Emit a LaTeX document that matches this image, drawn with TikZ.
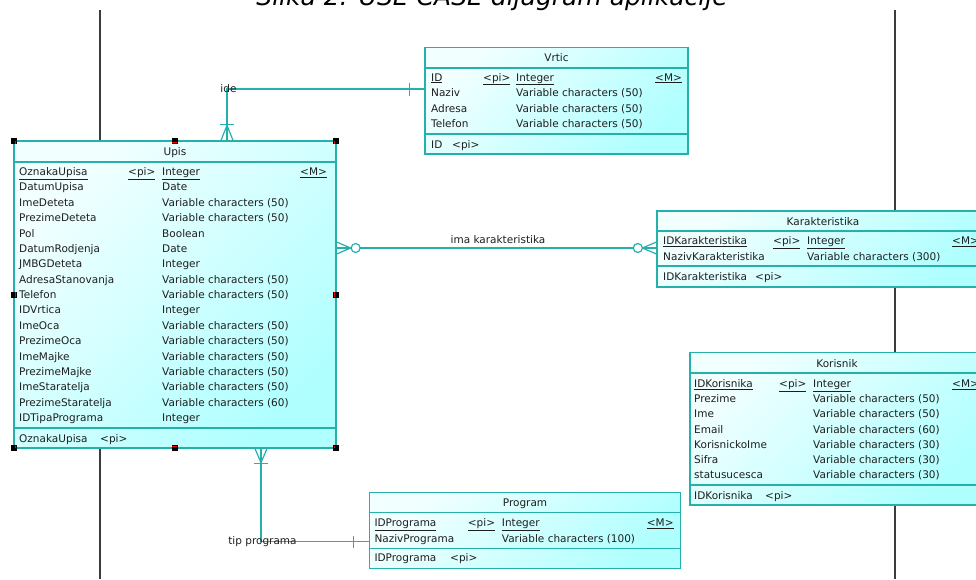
\documentclass[tikz,border=0pt]{standalone}
\usepackage{fontspec}
\usepackage{tikz}
\newfontfamily\erfont{DejaVu Sans}
\definecolor{erline}{RGB}{38,176,172}
\definecolor{erlight}{RGB}{242,255,255}
\definecolor{erdark}{RGB}{176,255,255}
\definecolor{lifeline}{RGB}{60,60,60}
\definecolor{ertext}{RGB}{30,30,30}

\begin{document}
\begin{tikzpicture}[x=1pt,y=-1pt]
        \tikzstyle{entity} = [rectangle, draw=erline, line width=1.3pt, top color=erlight, bottom color=erdark, shading angle=45, inner sep=0pt]
        \tikzstyle{sepline} = [draw=erline, line width=1.1pt]
        \tikzstyle{attr} = [anchor=base west, inner sep=0pt, text=ertext, font=\erfont\fontsize{10.5}{12}\selectfont]
        \tikzstyle{enttitle} = [anchor=base, inner sep=0pt, text=ertext, font=\erfont\fontsize{10.5}{12}\selectfont]
        \tikzstyle{rel} = [draw=erline, line width=1.2pt]
        \tikzstyle{rellabel} = [anchor=base, inner sep=0pt, text=ertext, font=\erfont\fontsize{10.5}{12}\selectfont]
        \tikzstyle{handle} = [fill=black]
        \useasboundingbox (0,0) rectangle (976,579);
        % caption of the page, cut by the top edge
        \node[anchor=base, inner sep=0pt, font=\erfont\itshape\fontsize{25}{28}\selectfont] (cap) at (492,5) {Slika 2: USE CASE dijagram aplikacije};
        % lifelines behind the tables
        \draw[lifeline, line width=1.4pt] (100,10) -- (100,579);
        \draw[lifeline, line width=1.4pt] (895,10) -- (895,579);

        % Vrtic
        \node[entity, minimum width=263pt, minimum height=106.5pt] (vrtic) at (556.5,100.75) {};
        \draw[sepline] (vrtic.west |- 0,68) -- (vrtic.east |- 0,68);
        \draw[sepline] (vrtic.west |- 0,134) -- (vrtic.east |- 0,134);
        \node[enttitle] (vrticT) at (556.5,61.5) {Vrtic};
        \node[attr] (v1n) at (431,81) {\underline{ID}};
        \node[attr] (v1p) at (483,81) {\underline{<pi>}};
        \node[attr] (v1t) at (516,81) {\underline{Integer}};
        \node[attr] (v1m) at (655,81) {\underline{<M>}};
        \node[attr] (v2n) at (431,96.5) {Naziv};
        \node[attr] (v2t) at (516,96.5) {Variable characters (50)};
        \node[attr] (v3n) at (431,112) {Adresa};
        \node[attr] (v3t) at (516,112) {Variable characters (50)};
        \node[attr] (v4n) at (431,127.5) {Telefon};
        \node[attr] (v4t) at (516,127.5) {Variable characters (50)};
        \node[attr] (vkn) at (431,148) {ID};
        \node[attr] (vkp) at (452,148) {<pi>};

        % Upis
        \node[entity, minimum width=322pt, minimum height=307pt] (upis) at (175,294.5) {};
        \draw[sepline] (upis.west |- 0,162) -- (upis.east |- 0,162);
        \draw[sepline] (upis.west |- 0,428) -- (upis.east |- 0,428);
        \node[enttitle] (upisT) at (175,155) {Upis};
        \node[attr] (u1n) at (19,175.5) {\underline{OznakaUpisa}};
        \node[attr] (u1p) at (128,175.5) {\underline{<pi>}};
        \node[attr] (u1t) at (162,175.5) {\underline{Integer}};
        \node[attr] (u1m) at (300,175.5) {\underline{<M>}};
        \node[attr] (u2n) at (19,190.9) {DatumUpisa};
        \node[attr] (u2t) at (162,190.9) {Date};
        \node[attr] (u3n) at (19,206.3) {ImeDeteta};
        \node[attr] (u3t) at (162,206.3) {Variable characters (50)};
        \node[attr] (u4n) at (19,221.6) {PrezimeDeteta};
        \node[attr] (u4t) at (162,221.6) {Variable characters (50)};
        \node[attr] (u5n) at (19,237) {Pol};
        \node[attr] (u5t) at (162,237) {Boolean};
        \node[attr] (u6n) at (19,252.4) {DatumRodjenja};
        \node[attr] (u6t) at (162,252.4) {Date};
        \node[attr] (u7n) at (19,267.8) {JMBGDeteta};
        \node[attr] (u7t) at (162,267.8) {Integer};
        \node[attr] (u8n) at (19,283.1) {AdresaStanovanja};
        \node[attr] (u8t) at (162,283.1) {Variable characters (50)};
        \node[attr] (u9n) at (19,298.5) {Telefon};
        \node[attr] (u9t) at (162,298.5) {Variable characters (50)};
        \node[attr] (u10n) at (19,313.9) {IDVrtica};
        \node[attr] (u10t) at (162,313.9) {Integer};
        \node[attr] (u11n) at (19,329.3) {ImeOca};
        \node[attr] (u11t) at (162,329.3) {Variable characters (50)};
        \node[attr] (u12n) at (19,344.6) {PrezimeOca};
        \node[attr] (u12t) at (162,344.6) {Variable characters (50)};
        \node[attr] (u13n) at (19,360) {ImeMajke};
        \node[attr] (u13t) at (162,360) {Variable characters (50)};
        \node[attr] (u14n) at (19,375.4) {PrezimeMajke};
        \node[attr] (u14t) at (162,375.4) {Variable characters (50)};
        \node[attr] (u15n) at (19,390.8) {ImeStaratelja};
        \node[attr] (u15t) at (162,390.8) {Variable characters (50)};
        \node[attr] (u16n) at (19,406.1) {PrezimeStaratelja};
        \node[attr] (u16t) at (162,406.1) {Variable characters (60)};
        \node[attr] (u17n) at (19,421.5) {IDTipaPrograma};
        \node[attr] (u17t) at (162,421.5) {Integer};
        \node[attr] (ukn) at (19,442) {OznakaUpisa};
        \node[attr] (ukp) at (100,442) {<pi>};

        % Karakteristika
        \node[entity, minimum width=332pt, minimum height=76pt] (karak) at (823,249) {};
        \draw[sepline] (karak.west |- 0,231) -- (karak.east |- 0,231);
        \draw[sepline] (karak.west |- 0,266) -- (karak.east |- 0,266);
        \node[enttitle] (karakT) at (823,225) {Karakteristika};
        \node[attr] (k1n) at (663,244.5) {\underline{IDKarakteristika}};
        \node[attr] (k1p) at (773,244.5) {\underline{<pi>}};
        \node[attr] (k1t) at (807,244.5) {\underline{Integer}};
        \node[attr] (k1m) at (952,244.5) {\underline{<M>}};
        \node[attr] (k2n) at (663,260) {NazivKarakteristika};
        \node[attr] (k2t) at (807,260) {Variable characters (300)};
        \node[attr] (kkn) at (663,280.5) {IDKarakteristika};
        \node[attr] (kkp) at (755,280.5) {<pi>};

        % Korisnik
        \node[entity, minimum width=294pt, minimum height=152.5pt] (kor) at (837,428.75) {};
        \draw[sepline] (kor.west |- 0,373) -- (kor.east |- 0,373);
        \draw[sepline] (kor.west |- 0,485) -- (kor.east |- 0,485);
        \node[enttitle] (korT) at (837,367) {Korisnik};
        \node[attr] (r1n) at (694,387.3) {\underline{IDKorisnika}};
        \node[attr] (r1p) at (779,387.3) {\underline{<pi>}};
        \node[attr] (r1t) at (813,387.3) {\underline{Integer}};
        \node[attr] (r1m) at (952,387.3) {\underline{<M>}};
        \node[attr] (r2n) at (694,402.5) {Prezime};
        \node[attr] (r2t) at (813,402.5) {Variable characters (50)};
        \node[attr] (r3n) at (694,417.7) {Ime};
        \node[attr] (r3t) at (813,417.7) {Variable characters (50)};
        \node[attr] (r4n) at (694,433) {Email};
        \node[attr] (r4t) at (813,433) {Variable characters (60)};
        \node[attr] (r5n) at (694,448.2) {KorisnickoIme};
        \node[attr] (r5t) at (813,448.2) {Variable characters (30)};
        \node[attr] (r6n) at (694,463.4) {Sifra};
        \node[attr] (r6t) at (813,463.4) {Variable characters (30)};
        \node[attr] (r7n) at (694,478.6) {statusucesca};
        \node[attr] (r7t) at (813,478.6) {Variable characters (30)};
        \node[attr] (rkn) at (694,499) {IDKorisnika};
        \node[attr] (rkp) at (765,499) {<pi>};

        % Program
        \node[entity, minimum width=311.4pt, minimum height=76pt] (prog) at (525,530.3) {};
        \draw[sepline] (prog.west |- 0,512.3) -- (prog.east |- 0,512.3);
        \draw[sepline] (prog.west |- 0,548.3) -- (prog.east |- 0,548.3);
        \node[enttitle] (progT) at (525,506) {Program};
        \node[attr] (p1n) at (374.3,526.7) {\underline{IDPrograma}};
        \node[attr] (p1p) at (467.7,526.7) {\underline{<pi>}};
        \node[attr] (p1t) at (501.7,526.7) {\underline{Integer}};
        \node[attr] (p1m) at (646.7,526.7) {\underline{<M>}};
        \node[attr] (p2n) at (374.3,542) {NazivPrograma};
        \node[attr] (p2t) at (501.7,542) {Variable characters (100)};
        \node[attr] (pkn) at (374.3,561.7) {IDPrograma};
        \node[attr] (pkp) at (450,561.7) {<pi>};

        % ide
        \coordinate (ideX) at (227,89);
        \coordinate (ideU) at (upis.north -| ideX);
        \coordinate (ideV) at (vrtic.west |- ideX);
        \draw[rel] (ideU) -- (ideX) -- (ideV);
        \draw[rel] (ideU) ++(-6,0) -- ++(6,-15) -- ++(6,15);
        \draw[rel] (ideU) ++(-7,-16) -- ++(14,0);
        \draw[rel] (ideV) ++(-15,-6.5) -- ++(0,13);
        \node[rellabel] (ideL) at (228.5,92) {ide};

        % ima karakteristika
        \coordinate (imaX) at (497,248);
        \coordinate (imaU) at (upis.east |- imaX);
        \coordinate (imaK) at (karak.west |- imaX);
        \draw[rel] (imaU) -- (imaK);
        \draw[rel] (imaU) ++(0,-6) -- ++(14,6) -- ++(-14,6);
        \draw[rel, fill=white] (imaU) ++(19,0) circle (4.5pt);
        \draw[rel] (imaK) ++(0,-6) -- ++(-14,6) -- ++(14,6);
        \draw[rel, fill=white] (imaK) ++(-18.5,0) circle (4.5pt);
        \node[rellabel] (imaL) at (498,243) {ima karakteristika};

        % tip programa
        \coordinate (tipX) at (261,541.5);
        \coordinate (tipU) at (upis.south -| tipX);
        \coordinate (tipP) at (prog.west |- tipX);
        \draw[rel] (tipU) -- (tipX) -- (tipP);
        \draw[rel] (tipU) ++(-6,0) -- ++(6,14) -- ++(6,-14);
        \draw[rel] (tipU) ++(-7,15) -- ++(14,0);
        \draw[rel] (tipP) ++(-15,-6) -- ++(0,12);
        \node[rellabel] (tipL) at (262.5,544) {tip programa};

        % selection handles of Upis
        \fill[handle] (11,137.5) rectangle (17,143.5);
        \fill[handle] (171.5,137.5) rectangle (177.5,143.5);
        \fill[handle] (333,137.5) rectangle (339,143.5);
        \fill[handle] (11,291.5) rectangle (17,297.5);
        \fill[handle] (333,291.5) rectangle (339,297.5);
        \fill[handle] (11,445) rectangle (17,451);
        \fill[handle] (171.5,445) rectangle (177.5,451);
        \fill[handle] (333,445) rectangle (339,451);
        \fill[red] (14.5,141) rectangle (16,143.5);
        \fill[red] (172,141.5) rectangle (177,142.5);
        \fill[red] (333.5,141) rectangle (335,143.5);
        \fill[red] (15,292) rectangle (16,297);
        \fill[red] (334,292) rectangle (335,297);
        \fill[red] (14.5,445.5) rectangle (16,447.5);
        \fill[red] (172,446) rectangle (177,447);
        \fill[red] (333.5,445.5) rectangle (335,447.5);
\end{tikzpicture}
\end{document}
